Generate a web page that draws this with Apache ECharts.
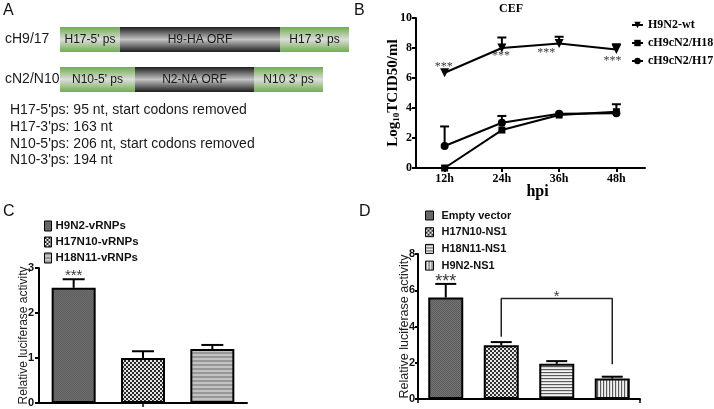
<!DOCTYPE html>
<html><head><meta charset="utf-8">
<script src="https://cdn.jsdelivr.net/npm/echarts@6/dist/echarts.min.js"></script>
<style>html,body{margin:0;padding:0;background:#fff}#c{width:714px;height:409px}</style>
</head><body><div id="c"></div>
<script>
// ---------- Panel A (construct schematic) ----------
const aRows = ['cH9/17', 'cN2/N10'];
const aSegLabels = [["H17-5' ps", 'H9-HA ORF', "H17 3' ps"], ["N10-5' ps", 'N2-NA ORF', "N10 3' ps"]];
const aSegLens = [[60, 160, 69], [75, 119, 69]];
const aNotes = ["H17-5'ps: 95 nt, start codons removed", "H17-3'ps: 163 nt", "N10-5'ps: 206 nt, start codons removed", "N10-3'ps: 194 nt"];

// ---------- Panel B (CEF growth curve) ----------
const bCats = ['12h', '24h', '36h', '48h'];
const bNames = ['H9N2-wt', 'cH9cN2/H18', 'cH9cN2/H17'];
const bWt = [6.35, 8.0, 8.3, 7.9];
const bWtErr = [0, 0.7, 0.45, 0.35];
const bH18 = [0, 2.53, 3.53, 3.75];
const bH18Err = [0, 0, 0, 0.5];
const bH17 = [1.47, 3.02, 3.62, 3.65];
const bH17Err = [1.3, 0.45, 0, 0];
const bStars = [6.75, 7.45, 7.65, 7.15];
const bYTicks = [0, 2, 4, 6, 8, 10];

// ---------- Panel C (vRNP luciferase) ----------
const cNames = ['H9N2-vRNPs', 'H17N10-vRNPs', 'H18N11-vRNPs'];
const cVals = [2.56, 1.0, 1.2];
const cErr = [0.19, 0.15, 0.09];
const cStar = 2.82;

// ---------- Panel D (NS1 luciferase) ----------
const dNames = ['Empty vector', 'H17N10-NS1', 'H18N11-NS1', 'H9N2-NS1'];
const dVals = [5.6, 2.96, 1.94, 1.13];
const dErr = [0.75, 0.18, 0.15, 0.1];
const dStar = 6.45;
const dBracket = [[1, 3.44], [1, 5.54], [3, 5.54], [3, 1.92]];
const dBracketStar = 5.62;

const SANS = '"Liberation Sans", Arial, sans-serif';
const SERIF = '"Liberation Serif", "Times New Roman", serif';

function makePattern(w, h, fn) {
  const cv = document.createElement('canvas');
  cv.width = w; cv.height = h;
  fn(cv.getContext('2d'), w, h);
  return { image: cv, repeat: 'repeat' };
}
function checker(a, b, s) {
  return makePattern(2 * s, 2 * s, (g) => {
    g.fillStyle = b; g.fillRect(0, 0, 2 * s, 2 * s);
    g.fillStyle = a; g.fillRect(0, 0, s, s); g.fillRect(s, s, s, s);
  });
}
function hStripes(cols) {
  return makePattern(1, cols.length, (g) => { cols.forEach((c, i) => { g.fillStyle = c; g.fillRect(0, i, 1, 1); }); });
}
function vStripes(cols) {
  return makePattern(cols.length, 1, (g) => { cols.forEach((c, i) => { g.fillStyle = c; g.fillRect(i, 0, 1, 1); }); });
}
const cPats = [checker('#5e5e5e', '#6e6e6e', 1), checker('#2a2a2a', '#e4e4e4', 2), hStripes(['#989898', '#989898', '#c2c2c2', '#c2c2c2'])];
const dPats = [checker('#5c5c5c', '#747474', 1), checker('#333333', '#e6e6e6', 2), hStripes(['#5a5a5a', '#d8d8d8', '#f2f2f2']), vStripes(['#5a5a5a', '#d8d8d8', '#f2f2f2'])];

const greenGrad = new echarts.graphic.LinearGradient(0, 0, 0, 1, [
  { offset: 0, color: '#6fae4a' }, { offset: 0.5, color: '#dcdcdc' }, { offset: 1, color: '#6fae4a' }]);
const darkGrad = new echarts.graphic.LinearGradient(0, 0, 0, 1, [
  { offset: 0, color: '#1e1e1e' }, { offset: 0.5, color: '#c4c4c4' }, { offset: 1, color: '#1e1e1e' }]);

function errRender(capW) {
  return function (params, api) {
    const x = api.value(0), v = api.value(1), t = api.value(2);
    const p0 = api.coord([x, v]);
    const p1 = api.coord([x, t]);
    return {
      type: 'group', children: [
        { type: 'line', shape: { x1: p0[0], y1: p0[1], x2: p1[0], y2: p1[1] }, style: { stroke: '#000', lineWidth: 2 } },
        { type: 'line', shape: { x1: p1[0] - capW / 2, y1: p1[1], x2: p1[0] + capW / 2, y2: p1[1] }, style: { stroke: '#000', lineWidth: 2 } }
      ]
    };
  };
}
function errSeries(xi, vals, errs, capW) {
  const data = [];
  vals.forEach((v, i) => { if (errs[i] > 0) data.push([i, v, v + errs[i]]); });
  return { type: 'custom', xAxisIndex: xi, yAxisIndex: xi, renderItem: errRender(capW), data: data,
    dimensions: ['x', 'y', 'top'], encode: { x: 0, y: [1, 2] }, z: 4, silent: true };
}
function starSeries(xi, pts, text, family, size, offsets) {
  return { type: 'scatter', xAxisIndex: xi, yAxisIndex: xi, symbolSize: 1, itemStyle: { color: 'rgba(0,0,0,0)' }, silent: true, z: 5,
    data: pts.map((p, i) => ({ value: p, label: { offset: [offsets ? offsets[i] : 0, 0] } })),
    label: { show: true, position: 'inside', formatter: text, color: '#000', fontFamily: family, fontSize: size } };
}

const series = [];
// Panel A stacked bars
[0, 1, 2].forEach((k) => {
  series.push({
    type: 'bar', stack: 'a', xAxisIndex: 0, yAxisIndex: 0, barWidth: 25,
    data: aSegLens.map((r) => r[k]),
    itemStyle: { color: k === 1 ? darkGrad : greenGrad },
    label: { show: true, position: 'inside', formatter: (p) => aSegLabels[p.dataIndex][k], fontSize: 12, color: '#1a1a1a', fontFamily: SANS },
    silent: true
  });
});
// Panel B lines
const bSets = [[bWt, bWtErr, 'triangle', 9, 180], [bH18, bH18Err, 'rect', 7, 0], [bH17, bH17Err, 'circle', 8, 0]];
bSets.forEach((s, k) => {
  series.push({ name: bNames[k], type: 'line', xAxisIndex: 1, yAxisIndex: 1, data: s[0], symbol: s[2], symbolSize: s[3], symbolRotate: s[4],
    showAllSymbol: true, lineStyle: { color: '#000', width: 2 }, itemStyle: { color: '#000' }, z: 3 });
  series.push(errSeries(1, s[0], s[1], 9));
});
series.push(starSeries(1, bStars.map((v, i) => [i, v]), '***', SERIF, 12, [-1, -1, -13, -4]));
// Panel C bars
cNames.forEach((n, k) => {
  series.push({ name: n, type: 'bar', xAxisIndex: 2, yAxisIndex: 2, barWidth: 44, barGap: '-100%',
    data: cVals.map((v, i) => (i === k ? v : '-')), itemStyle: { color: cPats[k], borderColor: '#000', borderWidth: 2 } });
});
series.push(errSeries(2, cVals, cErr, 22));
series.push(starSeries(2, [[0, cStar]], '***', SANS, 15));
// Panel D bars
dNames.forEach((n, k) => {
  series.push({ name: n, type: 'bar', xAxisIndex: 3, yAxisIndex: 3, barWidth: 35, barGap: '-100%',
    data: dVals.map((v, i) => (i === k ? v : '-')), itemStyle: { color: dPats[k], borderColor: '#000', borderWidth: 2 } });
});
series.push(errSeries(3, dVals, dErr, 21));
series.push({ type: 'line', xAxisIndex: 3, yAxisIndex: 3, data: dBracket, symbol: 'none', lineStyle: { color: '#222', width: 1.5 }, silent: true, z: 4 });
series.push(starSeries(3, [[0, dStar]], '***', SANS, 18));
series.push(starSeries(3, [[2, dBracketStar]], '*', SANS, 15));

const axisBlack = { show: true, lineStyle: { color: '#000', width: 2 } };
const panelTitle = (t, l, tp) => ({ text: t, left: l, top: tp, padding: 0, textStyle: { fontSize: 16, fontWeight: 'normal', color: '#111', fontFamily: SANS } });

const option = {
  animation: false,
  backgroundColor: '#fff',
  title: [
    panelTitle('A', 3, 3), panelTitle('B', 354, 3), panelTitle('C', 3, 204), panelTitle('D', 359, 204),
    { text: 'CEF', left: 499, top: 3, padding: 0, textStyle: { fontSize: 12, fontWeight: 'bold', color: '#000', fontFamily: SERIF } }
  ],
  graphic: [{ type: 'text', left: 10, top: 102, silent: true,
    style: { text: aNotes.join('\n'), font: '14px ' + SANS, fill: '#1a1a1a', lineHeight: 16.7 } }],
  legend: [
    { data: bNames, orient: 'vertical', left: 631, top: 19, itemWidth: 11, itemHeight: 8, itemGap: 6, padding: 0,
      textStyle: { fontFamily: SERIF, fontWeight: 'bold', fontSize: 12, color: '#000', lineHeight: 12 } },
    { data: cNames, orient: 'vertical', left: 44, top: 220, itemWidth: 7, itemHeight: 10, itemGap: 4, padding: 0, icon: 'rect',
      itemStyle: { borderWidth: 1 }, textStyle: { fontFamily: SANS, fontWeight: 'bold', fontSize: 11.5, color: '#111', lineHeight: 10, padding: [0, 0, 0, -1] } },
    { data: dNames, orient: 'vertical', left: 425, top: 210, itemWidth: 8, itemHeight: 9, itemGap: 5.7, padding: 0, icon: 'rect',
      itemStyle: { borderWidth: 1 }, textStyle: { fontFamily: SANS, fontWeight: 'bold', fontSize: 11, color: '#111', lineHeight: 9, padding: [0, 0, 0, 3] } }
  ],
  grid: [
    { left: 60, top: 19.5, width: 300, height: 80 },
    { left: 416, top: 18, width: 229, height: 150 },
    { left: 39, top: 268, width: 208, height: 135 },
    { left: 418, top: 254, width: 222, height: 145 }
  ],
  xAxis: [
    { gridIndex: 0, type: 'value', min: 0, max: 300, show: false },
    { gridIndex: 1, type: 'category', data: bCats, boundaryGap: true, axisLine: axisBlack,
      axisTick: { show: true, alignWithLabel: true, length: 4, lineStyle: { color: '#000', width: 2 } },
      axisLabel: { margin: 5, color: '#000', fontFamily: SERIF, fontWeight: 'bold', fontSize: 12 },
      name: 'hpi', nameLocation: 'middle', nameGap: 16, nameMoveOverlap: false,
      nameTextStyle: { fontFamily: SERIF, fontWeight: 'bold', fontSize: 16, color: '#000', padding: [0, 0, 0, 14] } },
    { gridIndex: 2, type: 'category', data: cNames, boundaryGap: true, axisLine: axisBlack,
      axisTick: { show: true, alignWithLabel: true, interval: (i) => i === 1, length: 4, lineStyle: { color: '#000', width: 1.5 } },
      axisLabel: { show: false } },
    { gridIndex: 3, type: 'category', data: dNames, boundaryGap: true, axisLine: axisBlack,
      axisTick: { show: true, alignWithLabel: false, interval: (i) => i === 2, length: 4, lineStyle: { color: '#000', width: 1.5 } },
      axisLabel: { show: false } }
  ],
  yAxis: [
    { gridIndex: 0, type: 'category', data: aRows, inverse: true, axisLine: { show: false }, axisTick: { show: false },
      axisLabel: { align: 'left', margin: 55, fontSize: 14, color: '#1a1a1a', fontFamily: SANS } },
    { gridIndex: 1, type: 'value', min: bYTicks[0], max: bYTicks[bYTicks.length - 1], interval: 2, axisLine: axisBlack,
      axisTick: { show: true, length: 4, lineStyle: { color: '#000', width: 2 } }, splitLine: { show: false },
      axisLabel: { margin: 4, color: '#000', fontFamily: SERIF, fontWeight: 'bold', fontSize: 12 },
      name: '{a|Log}{s|10}{a|TCID50/ml}', nameLocation: 'middle', nameGap: 15, nameRotate: 90, nameMoveOverlap: false,
      nameTextStyle: { rich: { a: { fontFamily: SERIF, fontWeight: 'bold', fontSize: 15, color: '#000' },
        s: { fontFamily: SERIF, fontWeight: 'bold', fontSize: 9, color: '#000', padding: [6, 0, 0, 0] } } } },
    { gridIndex: 2, type: 'value', min: 0, max: 3, interval: 1, axisLine: axisBlack,
      axisTick: { show: true, length: 4, lineStyle: { color: '#000', width: 2 } }, splitLine: { show: false },
      axisLabel: { margin: 5, color: '#111', fontFamily: SANS, fontWeight: 'bold', fontSize: 11 },
      name: 'Relative luciferase activity', nameLocation: 'middle', nameGap: 9, nameMoveOverlap: false,
      nameTextStyle: { fontFamily: SANS, fontSize: 12, color: '#222' } },
    { gridIndex: 3, type: 'value', min: 0, max: 8, interval: 2, axisLine: axisBlack,
      axisTick: { show: true, length: 3, lineStyle: { color: '#000', width: 2 } }, splitLine: { show: false },
      axisLabel: { margin: 3, color: '#111', fontFamily: SANS, fontWeight: 'bold', fontSize: 11 },
      name: 'Relative luciferase activity', nameLocation: 'middle', nameGap: 7, nameMoveOverlap: false,
      nameTextStyle: { fontFamily: SANS, fontSize: 12.5, color: '#222' } }
  ],
  series: series
};
const chart = echarts.init(document.getElementById('c'), null, { renderer: 'canvas' });
chart.setOption(option);
</script></body></html>
